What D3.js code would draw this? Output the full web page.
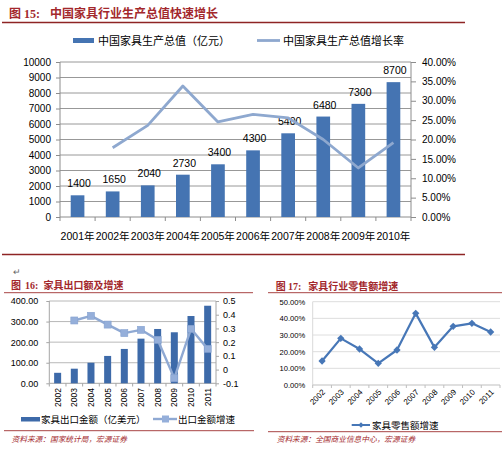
<!DOCTYPE html>
<html><head><meta charset="utf-8">
<script src="https://cdn.jsdelivr.net/npm/d3@7"></script>
<style>
body{margin:0;background:#fff}
svg{display:block}
text{font-family:"Liberation Sans","Noto Sans CJK SC",sans-serif;fill:#000}
</style>
</head><body>
<svg id="c" width="504" height="449"></svg>
<script>
// ---------- Data ----------
const years1 = ["2001年","2002年","2003年","2004年","2005年","2006年","2007年","2008年","2009年","2010年"];
const outputValue = [1400,1650,2040,2730,3400,4300,5400,6480,7300,8700];
const outputGrowth = [null,17.86,23.64,33.82,24.54,26.47,25.58,20.00,12.65,19.18];
const leftTicks1 = [0,1000,2000,3000,4000,5000,6000,7000,8000,9000,10000];
const rightTicks1 = [0,5,10,15,20,25,30,35,40];

const years2 = ["2002","2003","2004","2005","2006","2007","2008","2009","2010","2011"];
const exportValue = [51,71,100,133,167,217,264,248,327,377];
const exportGrowth = [null,0.358,0.392,0.328,0.266,0.29,0.217,-0.063,0.297,0.151];
const leftTicks2 = [0,100,200,300,400];
const rightTicks2 = [-0.1,0,0.1,0.2,0.3,0.4,0.5];

const years3 = ["2002","2003","2004","2005","2006","2007","2008","2009","2010","2011"];
const retailGrowth = [14.4,28.0,21.6,13.0,21.0,43.0,22.6,35.2,37.0,31.8];
const ticks3 = [0,10,20,30,40,50];

// ---------- Styles ----------
const RED = "#a3282c", RULE = "#8e2424";
const svg = d3.select("#c");

function title(xImg, xNum, numStr, xMain, mainStr, y, fs){
  const t = svg.append("text").attr("y", y).attr("fill", RED).style("fill", RED)
    .style("font-size", fs+"px").style("font-weight","bold");
  t.append("tspan").attr("x", xImg).style("font-family","Noto Sans CJK SC").text("图");
  t.append("tspan").attr("x", xNum).style("font-family","Liberation Serif").text(numStr);
  t.append("tspan").attr("x", xMain).style("font-family","Noto Sans CJK SC").text(mainStr);
}
function rule(x1,x2,y,c,w){
  svg.append("line").attr("x1",x1).attr("x2",x2).attr("y1",y).attr("y2",y)
    .attr("stroke",c).attr("stroke-width",w);
}
function styleAxis(g, color, fs){
  g.selectAll("path.domain").attr("stroke", color);
  g.selectAll(".tick line").attr("stroke", color);
  g.selectAll(".tick text").style("font-size", fs+"px").style("font-family","Liberation Sans").attr("fill","#000");
}

// ================= Chart 1 =================
title(9, 24, "15:", 50, "中国家具行业生产总值快速增长", 17.5, 12);
rule(2, 465, 22.5, RULE, 1.3);
rule(2, 465, 254.5, RULE, 1.3);

const x1 = d3.scaleBand().domain(years1).range([60,411]).paddingInner(0.61).paddingOuter(0.305);
const y1 = d3.scaleLinear().domain([0,10000]).range([217,62]);
const yr1 = d3.scaleLinear().domain([0,40]).range([217,62]);
const step1 = x1.step();

svg.append("g").selectAll("line").data(leftTicks1.slice(1)).join("line")
  .attr("x1",60).attr("x2",411).attr("y1",d=>y1(d)).attr("y2",d=>y1(d))
  .attr("stroke","#8c8c8c").attr("stroke-width",0.9);

const gl1 = svg.append("g").attr("transform","translate(60,0)")
  .call(d3.axisLeft(y1).tickValues(leftTicks1).tickSize(4).tickPadding(5).tickFormat(d3.format("d")));
styleAxis(gl1,"#8c8c8c",10);
gl1.select("path.domain").attr("d","M0,62V217");
const gr1 = svg.append("g").attr("transform","translate(411,0)")
  .call(d3.axisRight(yr1).tickValues(rightTicks1).tickSize(5).tickPadding(6).tickFormat(d=>d.toFixed(2)+"%"));
styleAxis(gr1,"#8c8c8c",10);
gr1.select("path.domain").attr("d","M0,62V217");

svg.append("line").attr("x1",60).attr("x2",411).attr("y1",217).attr("y2",217).attr("stroke","#8c8c8c");
svg.append("g").selectAll("line").data(d3.range(years1.length+1)).join("line")
  .attr("x1",i=>60+i*step1).attr("x2",i=>60+i*step1).attr("y1",217).attr("y2",221).attr("stroke","#8c8c8c");
svg.append("g").selectAll("text").data(years1).join("text")
  .attr("x",d=>x1(d)+x1.bandwidth()/2).attr("y",239.5).attr("text-anchor","middle")
  .style("font-size","10.5px").text(d=>d);

svg.append("g").selectAll("rect").data(outputValue).join("rect")
  .attr("x",(d,i)=>x1(years1[i])).attr("width",x1.bandwidth())
  .attr("y",d=>y1(d)).attr("height",d=>217-y1(d)).attr("fill","#4574b2");
svg.append("g").selectAll("text").data(outputValue).join("text")
  .attr("x",(d,i)=>x1(years1[i])+x1.bandwidth()/2+1.5).attr("y",d=>y1(d)-8)
  .attr("text-anchor","middle").style("font-size","10.5px").text(d=>d);
const line1 = d3.line().defined(d=>d!=null)
  .x((d,i)=>x1(years1[i])+x1.bandwidth()/2).y(d=>yr1(d));
svg.append("path").datum(outputGrowth).attr("d",line1)
  .attr("fill","none").attr("stroke","#8ea8cf").attr("stroke-width",2.8).attr("stroke-linejoin","round");

svg.append("rect").attr("x",73).attr("y",38).attr("width",21).attr("height",5).attr("fill","#4574b2");
svg.append("text").attr("x",98).attr("y",44.5).style("font-size","11px").text("中国家具生产总值（亿元）");
svg.append("line").attr("x1",257).attr("x2",280).attr("y1",40.5).attr("y2",40.5).attr("stroke","#8ea8cf").attr("stroke-width",2.8);
svg.append("text").attr("x",283).attr("y",44.5).style("font-size","11px").text("中国家具生产总值增长率");

svg.append("text").attr("x",13).attr("y",275).style("font-size","9px").attr("fill","#666").style("fill","#666").text("↵");

// ================= Chart 2 =================
title(11, 25, "16:", 43.5, "家具出口额及增速", 289, 10);
rule(4, 253, 292.7, "#a84444", 1);
rule(4, 254, 430.7, "#a84444", 1);

const x2 = d3.scaleBand().domain(years2).range([49.3,216]).paddingInner(0.58).paddingOuter(0.29);
const y2 = d3.scaleLinear().domain([0,400]).range([383.3,301]);
const yr2 = d3.scaleLinear().domain([-0.1,0.5]).range([383.3,301]);
const step2 = x2.step();

svg.append("g").selectAll("line").data(leftTicks2.slice(1)).join("line")
  .attr("x1",49.3).attr("x2",216).attr("y1",d=>y2(d)).attr("y2",d=>y2(d))
  .attr("stroke","#a6a6a6").attr("stroke-width",0.8);
const gl2 = svg.append("g").attr("transform","translate(49.3,0)")
  .call(d3.axisLeft(y2).tickValues(leftTicks2).tickSize(3).tickPadding(8).tickFormat(d=>d.toFixed(2)));
styleAxis(gl2,"#a6a6a6",9);
gl2.select("path.domain").attr("d","M0,301V383.3");
const gr2 = svg.append("g").attr("transform","translate(216,0)")
  .call(d3.axisRight(yr2).tickValues(rightTicks2).tickSize(3).tickPadding(4).tickFormat(d=>String(+d.toFixed(1))));
styleAxis(gr2,"#a6a6a6",9);
gr2.select("path.domain").attr("d","M0,301V383.3");
svg.append("line").attr("x1",49.3).attr("x2",216).attr("y1",383.3).attr("y2",383.3).attr("stroke","#a6a6a6");
svg.append("g").selectAll("line").data(d3.range(years2.length+1)).join("line")
  .attr("x1",i=>49.3+i*step2).attr("x2",i=>49.3+i*step2).attr("y1",383.3).attr("y2",386.5).attr("stroke","#a6a6a6");
svg.append("g").selectAll("text").data(years2).join("text")
  .attr("transform",d=>`translate(${x2(d)+x2.bandwidth()/2},388) rotate(-90)`)
  .attr("text-anchor","end").attr("dy","0.35em").style("font-size","8.5px").text(d=>d);

svg.append("g").selectAll("rect").data(exportValue).join("rect")
  .attr("x",(d,i)=>x2(years2[i])).attr("width",x2.bandwidth())
  .attr("y",d=>y2(d)).attr("height",d=>383.3-y2(d)).attr("fill","#3d6aa9");
const line2 = d3.line().defined(d=>d!=null)
  .x((d,i)=>x2(years2[i])+x2.bandwidth()/2).y(d=>yr2(d));
svg.append("path").datum(exportGrowth).attr("d",line2)
  .attr("fill","none").attr("stroke","#8fa9d3").attr("stroke-width",2.4).attr("stroke-linejoin","round");
svg.append("g").selectAll("rect").data(exportGrowth.map((d,i)=>({d,i})).filter(o=>o.d!=null)).join("rect")
  .attr("x",o=>x2(years2[o.i])+x2.bandwidth()/2-3.5).attr("y",o=>yr2(o.d)-3.5)
  .attr("width",7).attr("height",7).attr("fill","#95afda").attr("stroke","#86a2d0").attr("stroke-width",0.6);

svg.append("rect").attr("x",21).attr("y",417).attr("width",19).attr("height",4.5).attr("fill","#3d6aa9");
svg.append("text").attr("x",41).attr("y",422.5).style("font-size","9.5px").text("家具出口金额（亿美元）");
svg.append("line").attr("x1",153).attr("x2",177).attr("y1",419).attr("y2",419).attr("stroke","#8fa9d3").attr("stroke-width",2.4);
svg.append("rect").attr("x",162).attr("y",415.5).attr("width",7).attr("height",7).attr("fill","#95afda");
svg.append("text").attr("x",178).attr("y",422.5).style("font-size","9.5px").text("出口金额增速");

svg.append("text").attr("x",11.5).attr("y",442).style("font-size","7.7px").style("font-style","italic")
  .attr("fill",RED).style("fill",RED).style("font-family","Noto Sans CJK SC").text("资料来源：国家统计局，宏源证券");

// ================= Chart 3 =================
title(275.7, 288, "17:", 308.3, "家具行业零售额增速", 289.5, 10);
rule(268, 502, 292.7, "#a84444", 1);
rule(268, 502, 431.7, "#a84444", 1);

const x3 = d3.scaleBand().domain(years3).range([312.7,500]);
const y3 = d3.scaleLinear().domain([0,50]).range([385,301.7]);
const step3 = x3.step();

svg.append("g").selectAll("line").data(ticks3.slice(1)).join("line")
  .attr("x1",312.7).attr("x2",500).attr("y1",d=>y3(d)).attr("y2",d=>y3(d))
  .attr("stroke","#d9d9d9").attr("stroke-width",0.9);
const gl3 = svg.append("g").attr("transform","translate(312.7,0)")
  .call(d3.axisLeft(y3).tickValues(ticks3).tickSize(0).tickPadding(7.5).tickFormat(d=>d.toFixed(2)+"%"));
styleAxis(gl3,"#d9d9d9",7.6);
gl3.select("path.domain").attr("d","M0,301.7V385");
svg.append("line").attr("x1",312.7).attr("x2",500).attr("y1",385).attr("y2",385).attr("stroke","#bfbfbf");
svg.append("g").selectAll("line").data(d3.range(years3.length+1)).join("line")
  .attr("x1",i=>312.7+i*step3).attr("x2",i=>312.7+i*step3).attr("y1",385).attr("y2",388).attr("stroke","#bfbfbf");
svg.append("g").selectAll("text").data(years3).join("text")
  .attr("transform",d=>`translate(${x3(d)+step3/2+2},391) rotate(-45)`)
  .attr("text-anchor","end").attr("dy","0.3em").style("font-size","8px").text(d=>d);

const line3 = d3.line().x((d,i)=>x3(years3[i])+step3/2).y(d=>y3(d));
svg.append("path").datum(retailGrowth).attr("d",line3)
  .attr("fill","none").attr("stroke","#4777b7").attr("stroke-width",2.2).attr("stroke-linejoin","round");
const diamond = d3.symbol().type(d3.symbolDiamond2).size(34);
svg.append("g").selectAll("path").data(retailGrowth).join("path")
  .attr("transform",(d,i)=>`translate(${x3(years3[i])+step3/2},${y3(d)})`)
  .attr("d",diamond).attr("fill","#4777b7");

svg.append("line").attr("x1",351.7).attr("x2",370).attr("y1",425).attr("y2",425).attr("stroke","#4777b7").attr("stroke-width",2);
svg.append("path").attr("transform","translate(361,425)").attr("d",d3.symbol().type(d3.symbolDiamond2).size(18)).attr("fill","#4777b7");
svg.append("text").attr("x",372).attr("y",428.5).style("font-size","9.5px").text("家具零售额增速");

svg.append("text").attr("x",276.7).attr("y",442).style("font-size","7.7px").style("font-style","italic")
  .attr("fill",RED).style("fill",RED).style("font-family","Noto Sans CJK SC").text("资料来源：全国商业信息中心，宏源证券");
</script>
</body></html>
